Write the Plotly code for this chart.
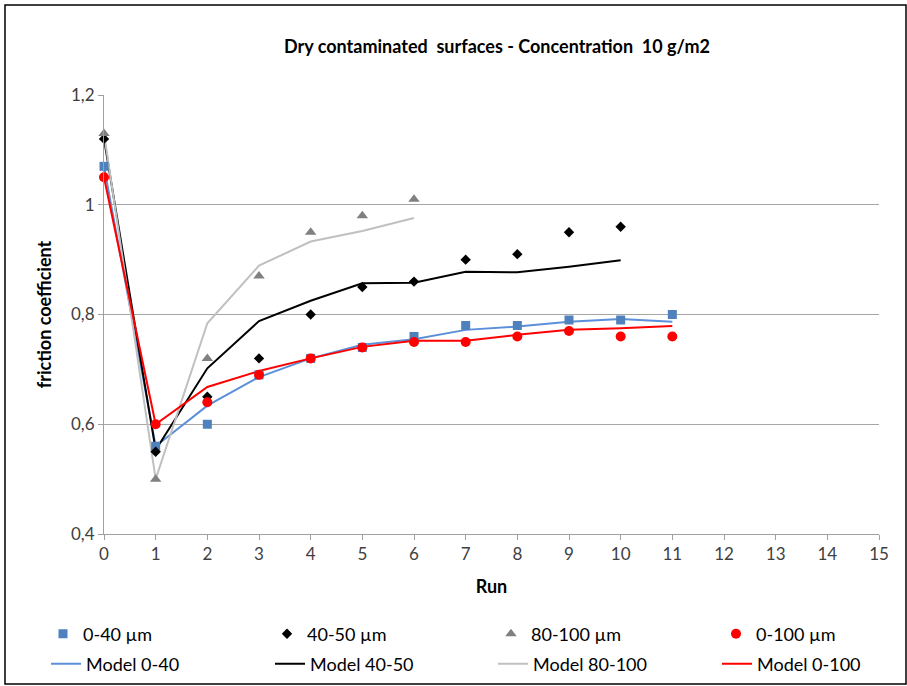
import plotly.graph_objects as go

# Run numbers
runs_40 = list(range(12))
runs_50 = list(range(11))
runs_100 = list(range(7))
runs_all = list(range(12))

# Measured friction coefficients
meas_0_40 = [1.07, 0.56, 0.60, 0.69, 0.72, 0.74, 0.76, 0.78, 0.78, 0.79, 0.79, 0.80]
meas_40_50 = [1.12, 0.55, 0.65, 0.72, 0.80, 0.85, 0.86, 0.90, 0.91, 0.95, 0.96]
meas_80_100 = [1.13, 0.50, 0.72, 0.87, 0.95, 0.98, 1.01]
meas_0_100 = [1.05, 0.60, 0.64, 0.69, 0.72, 0.74, 0.75, 0.75, 0.76, 0.77, 0.76, 0.76]

# Model curves
model_0_40 = [1.07, 0.56, 0.634, 0.686, 0.72, 0.745, 0.755, 0.772, 0.778, 0.787, 0.792, 0.787]
model_40_50 = [1.12, 0.553, 0.702, 0.788, 0.825, 0.857, 0.858, 0.878, 0.877, 0.887, 0.899]
model_80_100 = [1.13, 0.50, 0.784, 0.889, 0.933, 0.952, 0.976]
model_0_100 = [1.05, 0.60, 0.668, 0.697, 0.72, 0.741, 0.752, 0.752, 0.763, 0.772, 0.775, 0.779]

FONT = "Lato"
TXT = "#404040"

# Plot area in pixels: x 104..879, y 95..534
L, R, T, B = 104, 28, 95, 152
PW, PH = 907 - L - R, 686 - T - B


def px(x):
    return (x - L) / PW


def py(y):
    return (686 - B - y) / PH


# (name, x, y, symbol, size, colour, legend column origin in px)
scatter_specs = [
    ("0-40 µm", runs_40, meas_0_40, "square", 9, "#4F81BD", 43),
    ("40-50 µm", runs_50, meas_40_50, "diamond", 8, "#000000", 267),
    ("80-100 µm", runs_100, meas_80_100, "triangle-up", 10, "#808080", 491),
    ("0-100 µm", runs_all, meas_0_100, "circle", 10, "#FF0000", 716),
]
line_specs = [
    ("Model 0-40", runs_40, model_0_40, "#5B8FD9", 46),
    ("Model 40-50", runs_50, model_40_50, "#000000", 270),
    ("Model 80-100", runs_100, model_80_100, "#C0C0C0", 493),
    ("Model 0-100", runs_all, model_0_100, "#FF0000", 717),
]

fig = go.Figure()
legends = {}
k = 1

for name, x, y, color, lx in line_specs:
    lid = "legend" if k == 1 else f"legend{k}"
    fig.add_trace(go.Scatter(
        x=x, y=y, mode="lines", name=name, legend=lid,
        line=dict(color=color, width=2), cliponaxis=False,
    ))
    legends[lid] = dict(x=px(lx), y=py(664))
    k += 1

for name, x, y, sym, size, color, lx in scatter_specs:
    lid = f"legend{k}"
    fig.add_trace(go.Scatter(
        x=x, y=y, mode="markers", name=name, legend=lid,
        marker=dict(symbol=sym, color=color, size=size, line=dict(width=0)),
        cliponaxis=False,
    ))
    legends[lid] = dict(x=px(lx), y=py(634))
    k += 1

legend_layout = {}
for lid, pos in legends.items():
    legend_layout[lid] = dict(
        orientation="h", x=pos["x"], y=pos["y"],
        xanchor="left", yanchor="middle",
        font=dict(family=FONT, size=18, color="#000000"),
        bgcolor="rgba(0,0,0,0)",
    )

fig.update_layout(
    width=907, height=686,
    margin=dict(l=L, r=R, t=T, b=B, autoexpand=False),
    paper_bgcolor="white", plot_bgcolor="white",
    separators=", ",
    font=dict(family=FONT, color=TXT, size=14),
    title=dict(
        text="<b>Dry contaminated  surfaces - Concentration  10 g/m2</b>",
        x=px(497), xref="paper", xanchor="center",
        y=1 - 47 / 686, yanchor="middle",
        font=dict(family=FONT, size=18, color="#000000"),
    ),
    xaxis=dict(
        range=[0, 15], dtick=1, tick0=0,
        showgrid=False, zeroline=False,
        showline=True, linecolor="#A0A0A0", linewidth=1,
        ticks="outside", ticklen=5, tickcolor="#A0A0A0",
        tickfont=dict(size=17, color=TXT),
        title=dict(text="<b>Run</b>", font=dict(size=18, color="#000000"), standoff=16),
    ),
    yaxis=dict(
        range=[0.4, 1.2], dtick=0.2, tick0=0.4,
        showgrid=True, gridcolor="#A6A6A6", gridwidth=1,
        zeroline=False,
        showline=True, linecolor="#A0A0A0", linewidth=1,
        ticks="outside", ticklen=5, tickcolor="#A0A0A0",
        tickfont=dict(size=17, color=TXT),
        title=dict(text="<b>friction coefficient</b>", font=dict(size=18, color="#000000"), standoff=14),
    ),
    showlegend=True,
    **legend_layout,
)

# Chart frame
fig.add_shape(type="rect", xref="paper", yref="paper",
              x0=px(5), x1=px(906), y0=py(684), y1=py(5),
              line=dict(color="#000000", width=1.5), layer="below")

fig.write_html("out.html")
